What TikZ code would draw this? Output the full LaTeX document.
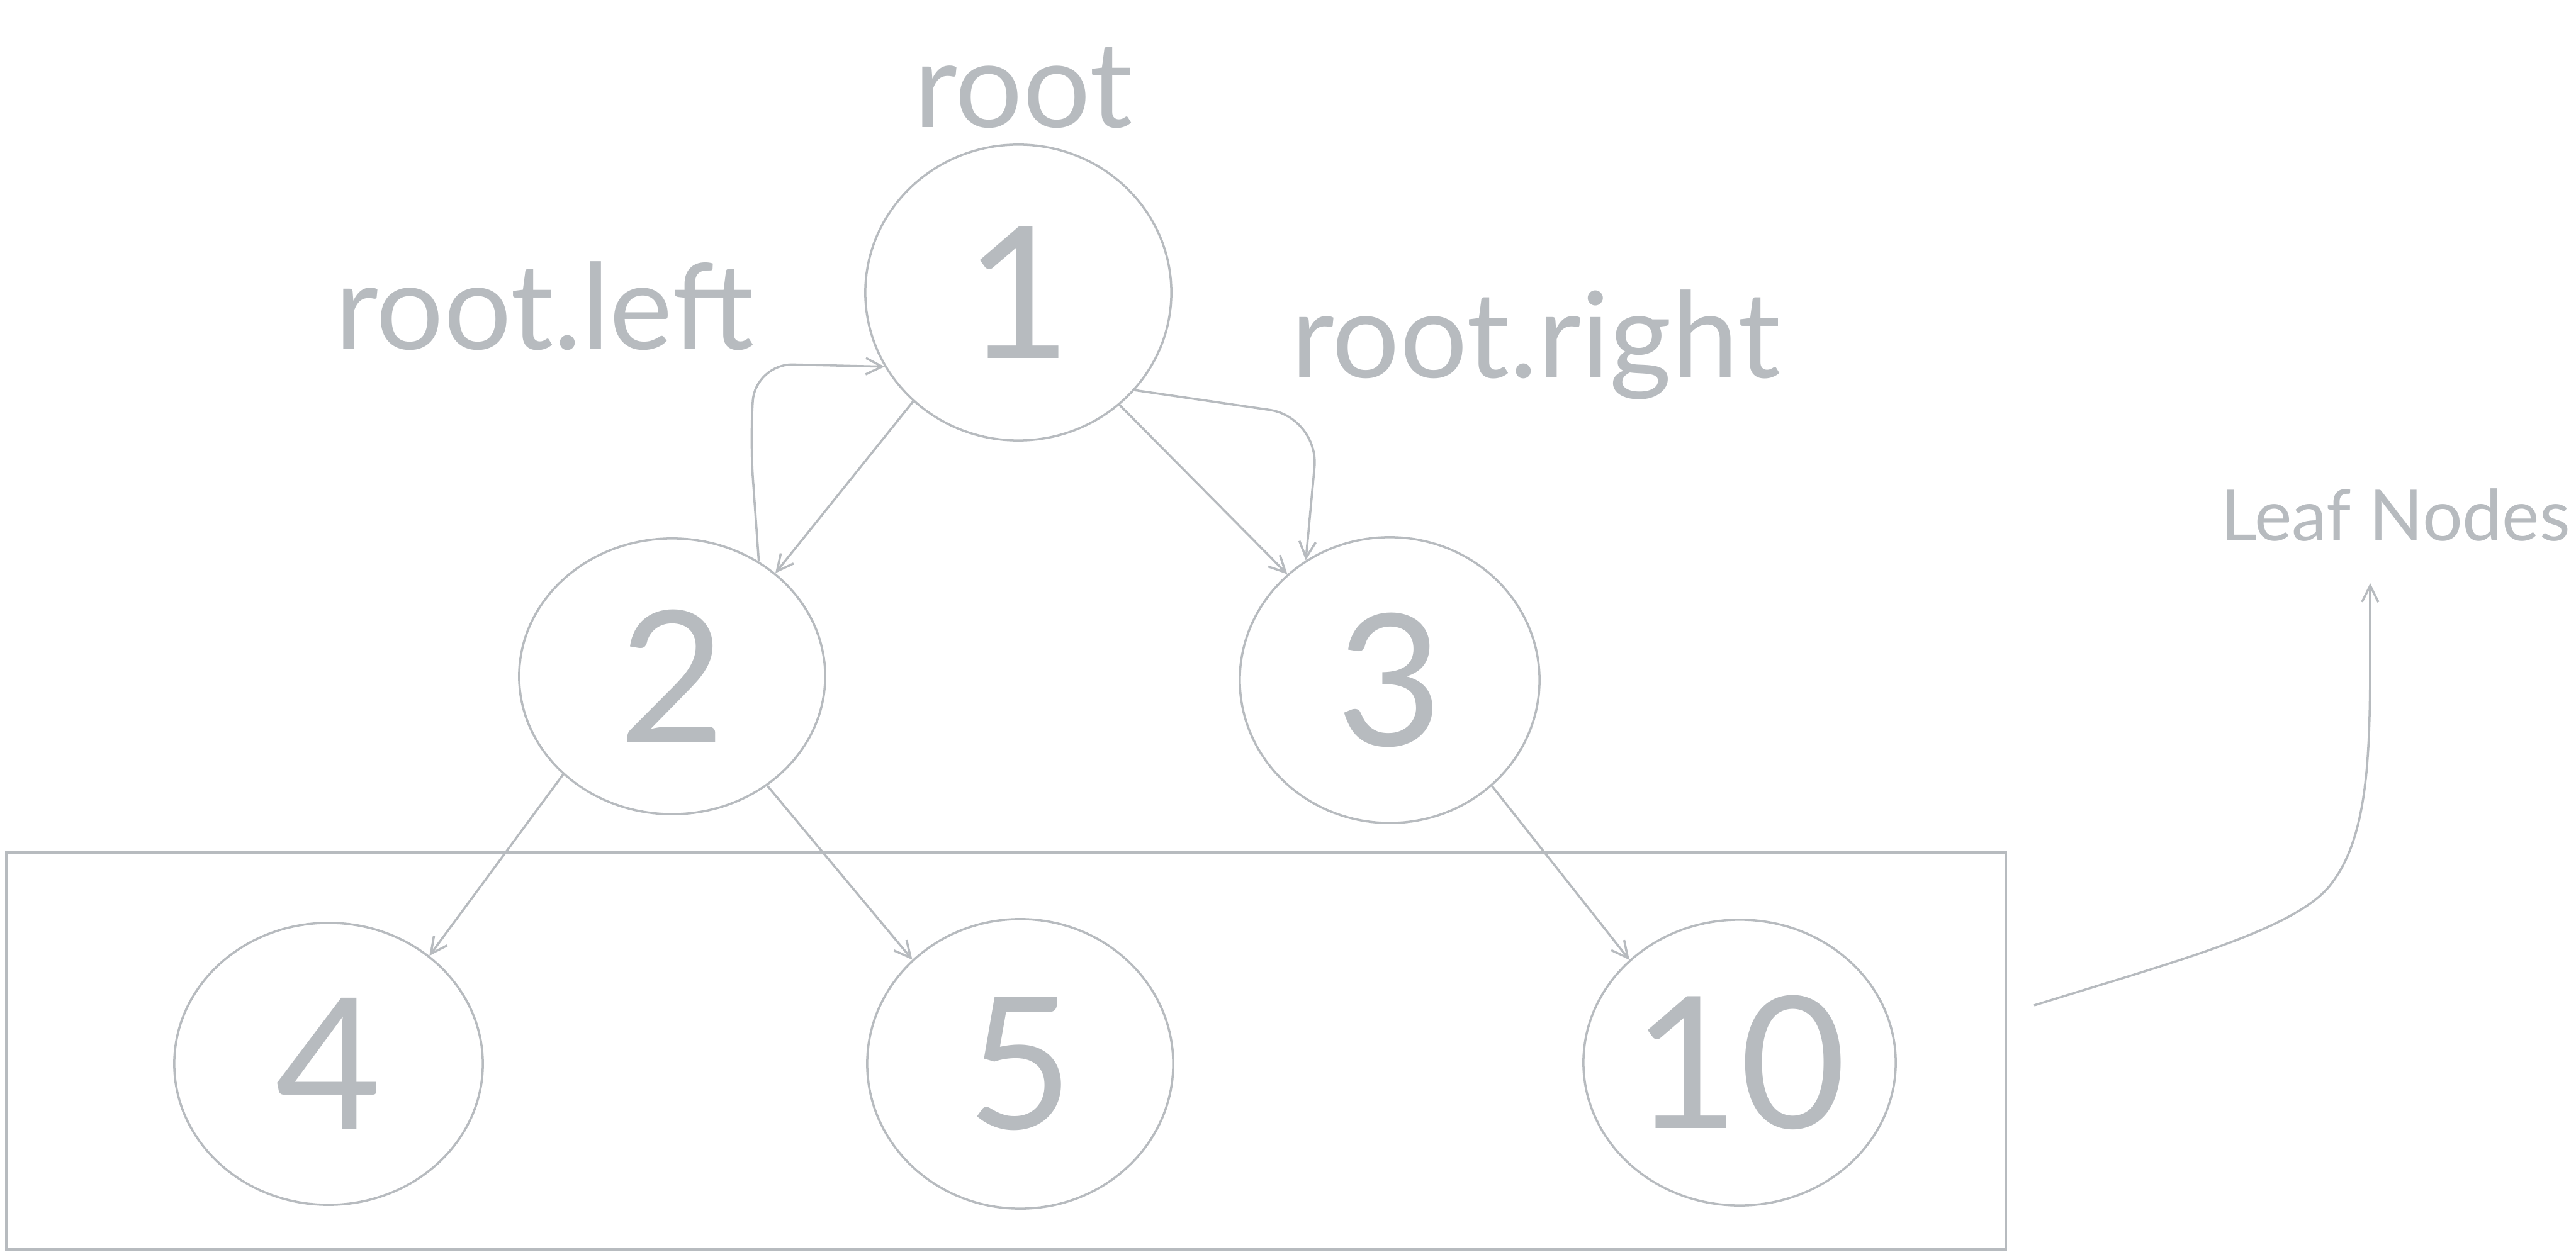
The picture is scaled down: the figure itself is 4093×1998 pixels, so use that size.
\documentclass[tikz,border=0pt]{standalone}
\usepackage{fontspec}
\setmainfont{Lato}
\usetikzlibrary{shapes.geometric,arrows.meta}
\definecolor{treegray}{HTML}{B7BBBF}

\begin{document}
\begin{tikzpicture}[x=0.01cm,y=-0.01cm]
\tikzstyle{mynode} = [ellipse, draw = treegray, line width = 1pt, text = treegray, inner sep = 0 pt, minimum width = 4.86cm, minimum height = 4.6cm, font = \fontsize{83}{90}\selectfont]
\tikzstyle{mylabel} = [text = treegray, inner sep = 0 pt, font = \fontsize{54}{60}\selectfont]
\tikzstyle{mybox} = [draw = treegray, line width = 1pt]
\tikzset{myedge/.style={draw = treegray, line width = 1pt, -{Straight Barb[length=0.26cm, width=0.26cm]}}}
\useasboundingbox (0,0) rectangle (4093,1998);

\node [mynode, minimum height = 4.7cm] (n1) at (1618,465) {1};
\node [mynode, minimum height = 4.38cm] (n2) at (1068,1075) {2};
\node [mynode, minimum width = 4.76cm, minimum height = 4.54cm] (n3) at (2208,1081) {3};
\node [mynode, minimum width = 4.9cm, minimum height = 4.48cm] (n4) at (522,1691) {4};
\node [mynode] (n5) at (1621,1691) {5};
\node [mynode, minimum width = 4.96cm, minimum height = 4.54cm] (n10) at (2764,1689) {10};

\node [mylabel] (rootlbl) at (1626,140) {root};
\node [mylabel] (leftlbl) at (865,486) {root.left};
\node [mylabel] (rightlbl) at (2440,548) {root.right};
\node [mylabel, font = \fontsize{32}{38}\selectfont] (leaflbl) at (3806,819) {Leaf Nodes};

\draw [mybox] (10,1355) rectangle (3187,1986);

\draw [myedge] (n1.226) -- (n2.45);
\draw [myedge] (n1.312) -- (n3.134);
\draw [myedge] (n2.222) -- (n4.47);
\draw [myedge] (n2.311) -- (n5.136);
\draw [myedge] (n3.314) -- (n10.137);
\draw [myedge, rounded corners = 0.6cm] (n2.53) -- (1192,700) -- (1200,578) -- (n1.209);
\draw [myedge, rounded corners = 0.8cm] (n1.320) -- (2096,663) -- (n3.125);

\coordinate (leafstart) at (3232,1598);
\coordinate (leafend) at (3766,927);
\draw [myedge] (leafstart) .. controls (3450,1530) and (3640,1480) .. (3700,1410) .. controls (3775,1320) and (3765,1150) .. (leafend);
\end{tikzpicture}
\end{document}
